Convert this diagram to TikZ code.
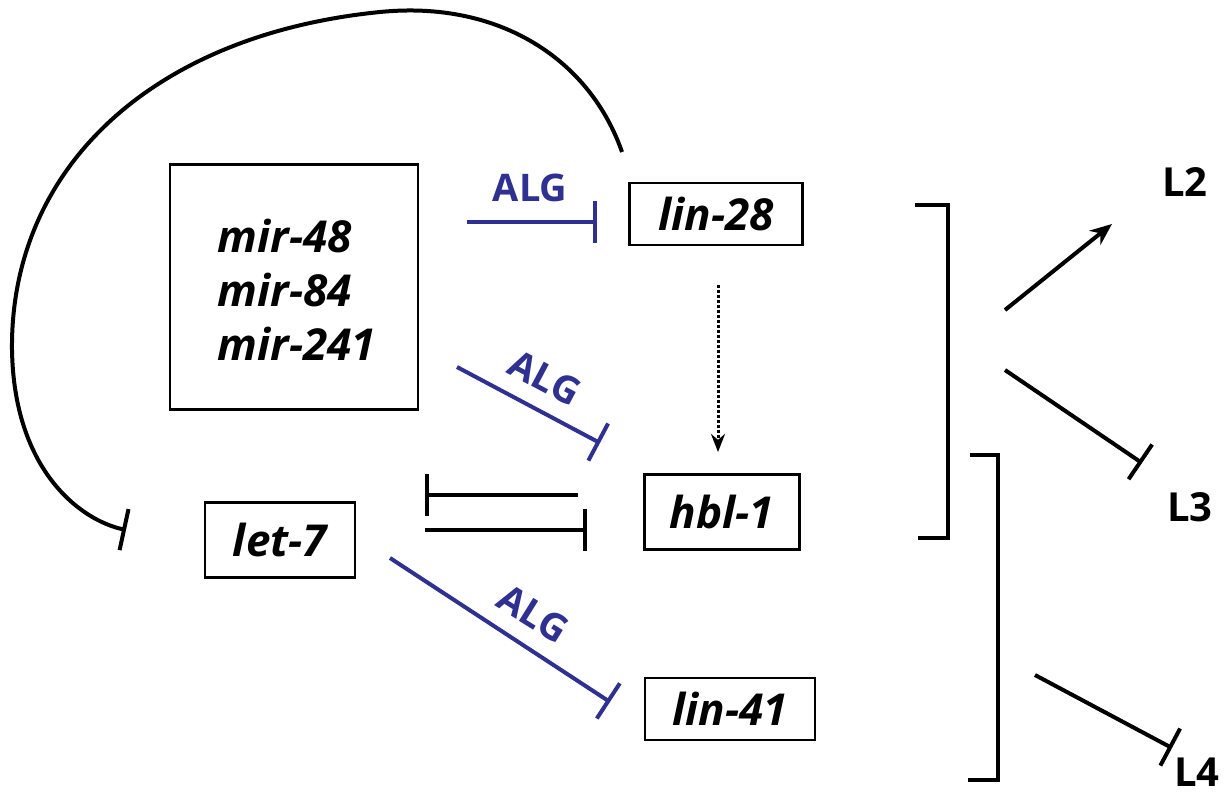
\documentclass[tikz,border=0pt]{standalone}
\usepackage{fontspec}
\setmainfont{Open Sans}
\usetikzlibrary{arrows.meta,positioning}
\definecolor{algblue}{RGB}{46,49,146}
\begin{document}
\begin{tikzpicture}[x=1pt,y=-1pt,
    gene/.style={rectangle, draw, line width=2.8pt, inner sep=0pt, font=\fontsize{44}{50}\selectfont\bfseries\itshape},
    inh/.style={line width=4pt, -{Bar[width=42pt,line width=4pt]}},
    act/.style={line width=4pt, -{Stealth[length=22pt,width=18pt]}},
    alg/.style={font=\fontsize{38}{44}\selectfont\bfseries, text=algblue},
    lab/.style={font=\fontsize{40}{46}\selectfont\bfseries},
]
    \useasboundingbox (0,0) rectangle (1232,800);
    % gene boxes
    \node[gene, minimum width=248pt, minimum height=245pt] (mir) at (294,287) {};
    \node[font=\fontsize{44}{50}\selectfont\bfseries\itshape, align=left] (mirtxt) at (297,290) {mir-48\\[4pt]mir-84\\[4pt]mir-241};
    \node[gene, minimum width=173pt, minimum height=62pt] (lin28) at (716,214) {lin-28};
    \node[gene, minimum width=155pt, minimum height=75pt] (hbl) at (722,512) {hbl-1};
    \node[gene, minimum width=150pt, minimum height=75pt] (let) at (280,540) {let-7};
    \node[gene, minimum width=170pt, minimum height=62pt] (lin41) at (730,709) {lin-41};
    % free ends
    \coordinate (a1) at (467,222); \coordinate (a2) at (597,222);
    \coordinate (b1) at (457,367); \coordinate (b2) at (600,443);
    \coordinate (c1) at (390,558); \coordinate (c2) at (610,702);
    \coordinate (d1) at (578,495); \coordinate (d2) at (425,495);
    \coordinate (e1) at (425,530); \coordinate (e2) at (587,530);
    \coordinate (f1) at (718,285); \coordinate (f2) at (718,452);
    \coordinate (g1) at (622,152); \coordinate (g2) at (126,530);
    \coordinate (s1) at (1005,310); \coordinate (l2) at (1112,224);
    \coordinate (s2) at (1005,370); \coordinate (l3) at (1142,463);
    \coordinate (s3) at (1035,675); \coordinate (l4) at (1172,748);
    % microRNA repression
    \draw[inh, algblue] (a1) -- (a2);
    \draw[inh, algblue] (b1) -- (b2);
    \draw[inh, algblue] (c1) -- (c2);
    \node[alg] at (530,188) {ALG};
    \node[alg, rotate=-28] at (545,378) {ALG};
    \node[alg, rotate=-32] at (533,614) {ALG};
    % hbl-1 / let-7 feedback
    \draw[inh] (d1) -- (d2);
    \draw[inh] (e1) -- (e2);
    \draw[line width=3pt, dotted, -{Stealth[length=18pt,width=14pt]}] (f1) -- (f2);
    \draw[inh] (g1) .. controls (590,60) and (500,0) .. (380,12)
        .. controls (150,35) and (10,170) .. (12,350)
        .. controls (14,470) and (80,520) .. (g2);
    % brackets
    \draw[line width=4pt] (915,205) -- (948,205) -- (948,538) -- (918,538);
    \draw[line width=4pt] (970,455) -- (998,455) -- (998,780) -- (968,780);
    % stages
    \draw[act] (s1) -- (l2);
    \draw[inh] (s2) -- (l3);
    \draw[inh] (s3) -- (l4);
    \node[lab] at (1185,182) {L2};
    \node[lab] at (1190,507) {L3};
    \node[lab] at (1197,772) {L4};
\end{tikzpicture}
\end{document}
